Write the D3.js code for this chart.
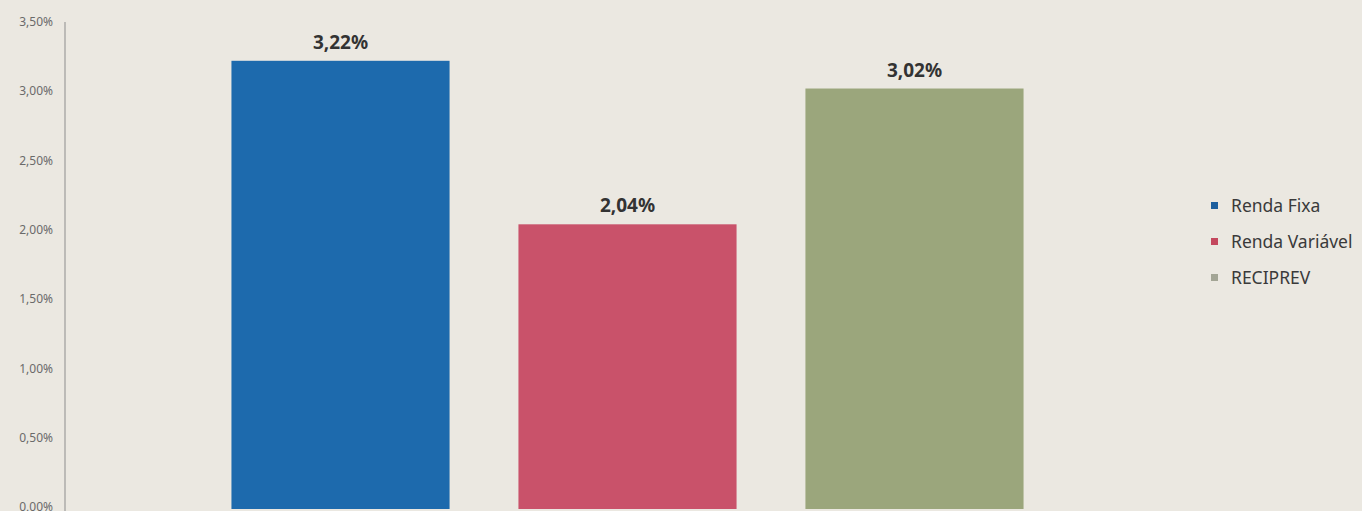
<!DOCTYPE html>
<html lang="pt">
<head>
  <meta charset="UTF-8">
  <title>Rentabilidade por segmento</title>
  <style>
    body { margin: 0; background: #ebe8e1; font-family: "Noto Sans", sans-serif; }
    svg { display: block; background: #ebe8e1; }
    .tick-label { fill: #6a6a6a; font-size: 12px; }
    .value-label { fill: #333; font-size: 19px; font-weight: bold; }
    .legend-label { fill: #3a3a3a; font-size: 17.5px; }
  </style>
</head>
<body>
  <svg width="1362" height="511"></svg>
  <script src="https://d3js.org/d3.v7.min.js"></script>
  <script>
  // data
  const categories = ["Renda Fixa", "Renda Variável", "RECIPREV"];
  const values = [3.22, 2.04, 3.02];
  const colors = ["#1d6aad", "#c9526a", "#9ba67c"];
  const legendColors = ["#1d5f9e", "#c4485e", "#a3a595"];
  const yTicks = [0, 0.5, 1, 1.5, 2, 2.5, 3, 3.5];

  const width = 1362, height = 511;
  const svg = d3.select("svg");

  const fmt = v => d3.format(".2f")(v).replace(".", ",") + "%";

  const x = d3.scaleBand()
    .domain(categories)
    .range([65, 1190])
    .paddingInner(0.24)
    .paddingOuter(0.58);

  const y = d3.scaleLinear()
    .domain([0, 3.5])
    .range([507, 22]);

  // vertical axis line
  svg.append("line")
    .attr("x1", 65).attr("x2", 65)
    .attr("y1", y(3.5)).attr("y2", height)
    .attr("stroke", "#8d8d8d")
    .attr("stroke-width", 1);

  // tick labels
  svg.append("g")
    .selectAll("text")
    .data(yTicks)
    .join("text")
    .attr("class", "tick-label")
    .attr("x", 53)
    .attr("y", d => y(d))
    .attr("dy", "0.35em")
    .attr("text-anchor", "end")
    .text(d => fmt(d));

  // bars
  svg.append("g")
    .selectAll("rect")
    .data(values)
    .join("rect")
    .attr("x", (d, i) => x(categories[i]))
    .attr("y", d => y(d))
    .attr("width", x.bandwidth())
    .attr("height", d => y(0) - y(d) + 2)
    .attr("fill", (d, i) => colors[i]);

  // value labels
  svg.append("g")
    .selectAll("text")
    .data(values)
    .join("text")
    .attr("class", "value-label")
    .attr("x", (d, i) => x(categories[i]) + x.bandwidth() / 2)
    .attr("y", d => y(d) - 12)
    .attr("text-anchor", "middle")
    .text(d => fmt(d));

  // legend
  const legend = svg.append("g")
    .selectAll("g")
    .data(categories)
    .join("g")
    .attr("transform", (d, i) => `translate(1211, ${206 + i * 36})`);

  legend.append("rect")
    .attr("x", 0).attr("y", -4)
    .attr("width", 7).attr("height", 7)
    .attr("fill", (d, i) => legendColors[i]);

  legend.append("text")
    .attr("class", "legend-label")
    .attr("x", 20)
    .attr("dy", "0.35em")
    .text(d => d);
  </script>
</body>
</html>
